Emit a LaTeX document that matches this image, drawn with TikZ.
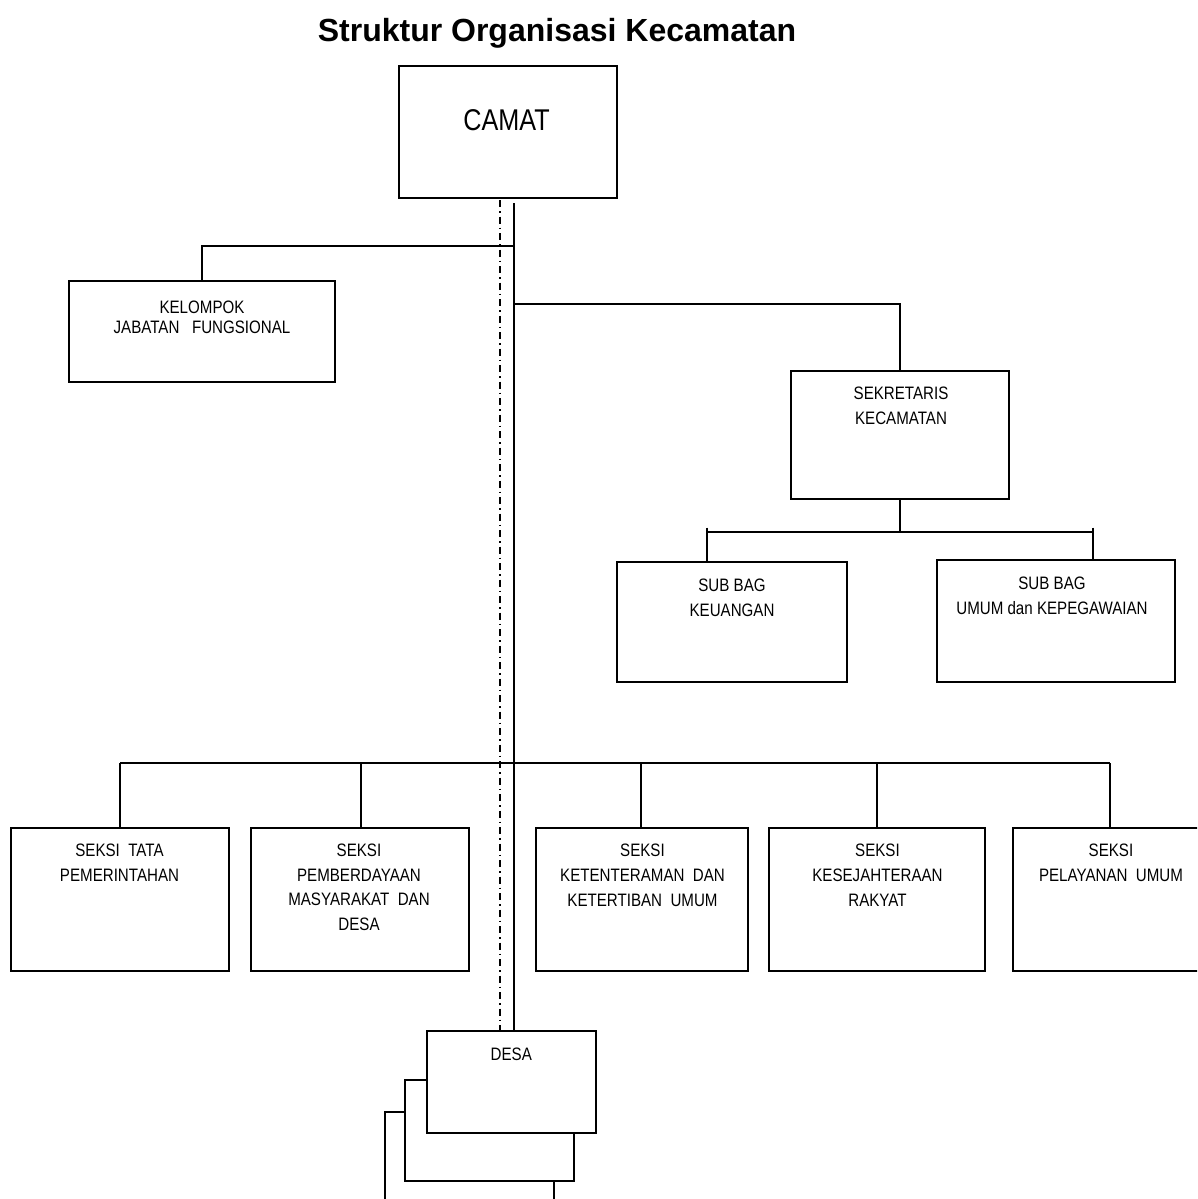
\documentclass[tikz,border=0pt]{standalone}
\usepackage{fontspec}
\setmainfont{Liberation Sans}
\newfontfamily\narrowfont{Liberation Sans}[FakeStretch=0.84]
\tikzset{
  box/.style={draw, line width=1.6pt, fill=white, inner sep=0pt, outer sep=0pt},
  conn/.style={line width=1.6pt},
  dashdotline/.style={line width=1.5pt, dash pattern=on 7pt off 4pt on 1.5pt off 4pt},
  lbl/.style={font=\narrowfont\fontsize{18}{24.6}\selectfont, align=center, inner sep=0pt, anchor=base},
  lblk/.style={font=\narrowfont\fontsize{18}{20}\selectfont, align=center, inner sep=0pt, anchor=base},
}
\begin{document}
\begin{tikzpicture}[x=1pt,y=-1pt]
\useasboundingbox (0,0) rectangle (1197,1199);
\fill[white] (0,0) rectangle (1197,1199);
\clip (0,0) rectangle (1197,1199);

% title
\node[font=\bfseries\fontsize{32}{36}\selectfont, inner sep=0pt, anchor=base] (title) at (557,41.7) {Struktur Organisasi Kecamatan};

% boxes
\node[box, minimum width=218pt, minimum height=132pt] (camat) at (508,132) {};
\node[box, minimum width=266pt, minimum height=101pt] (kel) at (202,331.5) {};
\node[box, minimum width=218pt, minimum height=128pt] (sek) at (900,435) {};
\node[box, minimum width=230pt, minimum height=120pt] (keu) at (732,622) {};
\node[box, minimum width=238pt, minimum height=122pt] (umum) at (1056,621) {};
\node[box, minimum width=218pt, minimum height=143pt] (s1) at (120,899.5) {};
\node[box, minimum width=218pt, minimum height=143pt] (s2) at (360,899.5) {};
\node[box, minimum width=212pt, minimum height=143pt] (s3) at (642,899.5) {};
\node[box, minimum width=216pt, minimum height=143pt] (s4) at (877,899.5) {};
\node[box, minimum width=197pt, minimum height=143pt] (s5) at (1111.5,899.5) {};
\node[box, minimum width=169pt, minimum height=101pt] (desc) at (469.5,1162.5) {};
\node[box, minimum width=169pt, minimum height=101pt] (desb) at (489.5,1130.5) {};
\node[box, minimum width=169pt, minimum height=102pt] (desa) at (511.5,1082) {};

% texts (anchor=base is the baseline of the last line)
\node[font=\narrowfont\fontsize{30}{34}\selectfont, inner sep=0pt, anchor=base] (camatt) at (506.5,130) {CAMAT};
\node[lblk] (kelt) at (202,333.3) {KELOMPOK\\JABATAN~~~FUNGSIONAL};
\node[lbl] (sekt) at (901,424.5) {SEKRETARIS\\KECAMATAN};
\node[lbl] (keut) at (732,616.5) {SUB BAG\\KEUANGAN};
\node[lbl] (umumt) at (1052,614) {SUB BAG\\UMUM dan KEPEGAWAIAN};
\node[lbl] (s1t) at (119.5,881.1) {SEKSI~~TATA\\PEMERINTAHAN};
\node[lbl] (s2t) at (359,930.5) {SEKSI\\PEMBERDAYAAN\\MASYARAKAT~~DAN\\DESA};
\node[lbl] (s3t) at (642.5,906) {SEKSI\\KETENTERAMAN~~DAN\\KETERTIBAN~~UMUM};
\node[lbl] (s4t) at (877.5,906) {SEKSI\\KESEJAHTERAAN\\RAKYAT};
\node[lbl] (s5t) at (1111,881.1) {SEKSI\\PELAYANAN~~UMUM};
\node[lbl] (desat) at (511.3,1060) {DESA};

% helper coordinates
\coordinate (trunk) at (514,0);
\coordinate (dd) at (500,0);
\coordinate (j1) at (514,246);
\coordinate (j2) at (514,304);
\coordinate (j3) at (900,532);
\coordinate (t1) at (707,527.5);
\coordinate (t2) at (1093,527.5);
\coordinate (bus) at (0,763);

% connectors
\draw[dashdotline] ([yshift=-2pt]camat.south -| dd) -- (desa.north -| dd);
\draw[conn] ([yshift=-5pt]camat.south -| trunk) -- (desa.north -| trunk);
\draw[conn] (j1) -| (kel.north);
\draw[conn] (j2) -| (sek.north);
\draw[conn] (sek.south) -- (j3);
\draw[conn] (t1 |- j3) -- (t2 |- j3);
\draw[conn] (t1) -- (t1 |- keu.north);
\draw[conn] (t2) -- (t2 |- umum.north);
\draw[conn] (s1.north |- bus) -- ([xshift=-1.5pt]s5.north |- bus);
\draw[conn] (s1.north) -- (s1.north |- bus);
\draw[conn] ([xshift=1pt]s2.north) -- ([xshift=1pt]s2.north |- bus);
\draw[conn] ([xshift=-1pt]s3.north) -- ([xshift=-1pt]s3.north |- bus);
\draw[conn] (s4.north) -- (s4.north |- bus);
\draw[conn] ([xshift=-1.5pt]s5.north) -- ([xshift=-1.5pt]s5.north |- bus);
\end{tikzpicture}
\end{document}
